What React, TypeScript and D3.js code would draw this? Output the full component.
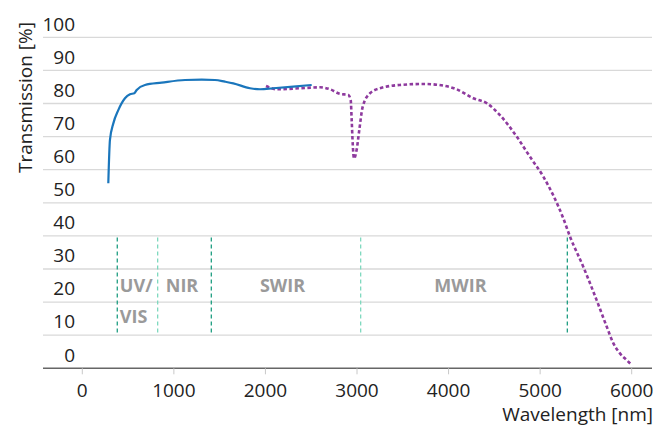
import React, { useEffect, useRef } from 'react';
import { select, scaleLinear, line, curveMonotoneX } from 'd3';

// Solid curve (UV/VIS - NIR - SWIR)
const blueWavelength = [284, 302, 339, 393, 466, 521, 568, 594, 684, 867, 1122, 1304, 1449, 1558, 1649, 1832, 1942, 2086, 2304, 2505];
const blueTransmission = [55.9, 69.0, 74.0, 78.0, 81.6, 82.8, 83.1, 84.1, 85.6, 86.3, 87.1, 87.2, 87.1, 86.6, 86.1, 84.6, 84.3, 84.6, 85.1, 85.6];

// Dotted curve (SWIR - MWIR)
const purpleWavelength = [2006, 2123, 2377, 2596, 2705, 2814, 2905, 2931, 2942, 2953, 2967, 2996, 3025, 3062, 3142, 3251, 3469, 3724, 3942, 4088, 4270, 4416, 4561, 4744, 4889, 5035, 5253, 5326, 5471, 5617, 5727, 5799, 5872, 5945, 6000];
const purpleTransmission = [85.3, 84.3, 84.6, 84.9, 84.3, 82.9, 82.6, 81.1, 75.0, 68.0, 63.4, 66.0, 72.0, 79.0, 83.1, 84.6, 85.6, 85.9, 85.4, 84.3, 81.6, 80.1, 76.5, 70.0, 63.9, 57.9, 45.3, 39.8, 30.7, 20.6, 12.6, 7.6, 4.5, 2.5, 1.0];

// Spectral region borders and labels
const borderWavelength = [382, 823, 1409, 3040, 5297];
const borderLight = [false, true, false, true, false];
const regionNames = ['UV/', 'VIS', 'NIR', 'SWIR', 'MWIR'];
const regionWavelength = [410, 410, 1089, 2186, 4130];
const regionLevel = [25, 15.6, 25, 25, 25];

const xTicks = [0, 1000, 2000, 3000, 4000, 5000, 6000];
const yTicks = [0, 10, 20, 30, 40, 50, 60, 70, 80, 90, 100];

const font = '"Open Sans", "Noto Sans", sans-serif';

const App = () => {
  const svgRef = useRef(null);

  useEffect(() => {
    const svg = select(svgRef.current);
    svg.selectAll('*').remove();

    const x = scaleLinear().domain([0, 6000]).range([82.3, 631.7]);
    const y = scaleLinear().domain([0, 100]).range([368.3, 37.3]);
    const left = 43;
    const right = 652;

    // grid
    svg.append('g')
      .selectAll('line')
      .data(yTicks.filter((d) => d > 0))
      .join('line')
      .attr('x1', left)
      .attr('x2', right)
      .attr('y1', (d) => y(d))
      .attr('y2', (d) => y(d))
      .attr('stroke', '#d9d9d9')
      .attr('stroke-width', 1.3);

    // y labels (sit above their grid line)
    svg.append('g')
      .selectAll('text')
      .data(yTicks)
      .join('text')
      .attr('x', 75)
      .attr('y', (d) => y(d) - 6.8)
      .attr('text-anchor', 'end')
      .attr('font-family', font)
      .attr('font-size', 19)
      .attr('fill', '#222')
      .text((d) => d);

    // x axis
    svg.append('line')
      .attr('x1', left)
      .attr('x2', right)
      .attr('y1', y(0))
      .attr('y2', y(0))
      .attr('stroke', '#666')
      .attr('stroke-width', 1.5);

    const xt = svg.append('g')
      .selectAll('g')
      .data(xTicks)
      .join('g')
      .attr('transform', (d) => `translate(${x(d)},${y(0)})`);
    xt.append('line').attr('y1', 0).attr('y2', 6).attr('stroke', '#c8c8c8').attr('stroke-width', 1);
    xt.append('text')
      .attr('y', 29)
      .attr('text-anchor', 'middle')
      .attr('font-family', font)
      .attr('font-size', 19)
      .attr('fill', '#222')
      .text((d) => d);

    // region borders
    svg.append('g')
      .selectAll('line')
      .data(borderWavelength)
      .join('line')
      .attr('x1', (d) => x(d))
      .attr('x2', (d) => x(d))
      .attr('y1', y(39.5))
      .attr('y2', y(10.8))
      .attr('stroke', (d, i) => (borderLight[i] ? '#7fd9bf' : '#1f9e82'))
      .attr('stroke-width', 1.3)
      .attr('stroke-dasharray', '4 3');

    svg.append('g')
      .selectAll('text')
      .data(regionNames)
      .join('text')
      .attr('x', (d, i) => x(regionWavelength[i]))
      .attr('y', (d, i) => y(regionLevel[i]))
      .attr('dy', '0.36em')
      .attr('text-anchor', (d, i) => (i < 2 ? 'start' : 'middle'))
      .attr('font-family', font)
      .attr('font-weight', 'bold')
      .attr('font-size', 18)
      .attr('fill', '#9a9a9a')
      .text((d) => d);

    // curves
    const myLine = line()
      .x((d) => x(d[0]))
      .y((d) => y(d[1]))
      .curve(curveMonotoneX);

    const purple = purpleWavelength.map((w, i) => [w, purpleTransmission[i]]);
    const blue = blueWavelength.map((w, i) => [w, blueTransmission[i]]);

    svg.append('path')
      .attr('d', myLine(purple))
      .attr('fill', 'none')
      .attr('stroke', '#8e3a9e')
      .attr('stroke-width', 2.6)
      .attr('stroke-dasharray', '3.5 2.5');

    svg.append('path')
      .attr('d', myLine(blue))
      .attr('fill', 'none')
      .attr('stroke', '#1a76bc')
      .attr('stroke-width', 2.2);

    // axis titles
    svg.append('text')
      .attr('x', 653)
      .attr('y', 421)
      .attr('text-anchor', 'end')
      .attr('font-family', font)
      .attr('font-size', 19)
      .attr('fill', '#222')
      .text('Wavelength [nm]');

    svg.append('text')
      .attr('transform', 'translate(31.5,173) rotate(-90)')
      .attr('font-family', font)
      .attr('font-size', 19)
      .attr('fill', '#222')
      .text('Transmission [%]');
  }, []);

  return (
    <div className='root'>
      <svg ref={svgRef} width={668} height={426} style={{ position: 'absolute', left: 0, top: 0 }} />
    </div>
  );
};

export default App;
